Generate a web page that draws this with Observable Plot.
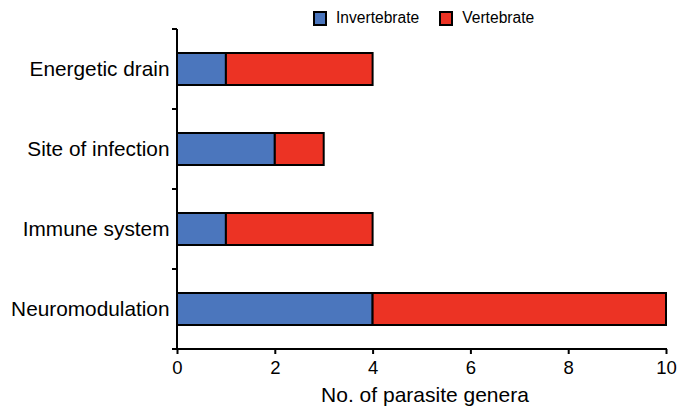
<!DOCTYPE html>
<html>
<head>
<meta charset="utf-8">
<script src="https://cdn.jsdelivr.net/npm/d3@7"></script>
<script src="https://cdn.jsdelivr.net/npm/@observablehq/plot@0.6"></script>
<style>
  body { margin: 0; background: #fff; font-family: "Liberation Sans", Arial, sans-serif; }
  #wrap { position: relative; width: 678px; height: 412px; }
  #legend { position: absolute; left: 313px; top: 10px; display: flex; align-items: center; font-size: 15.6px; color: #000; line-height: 16px; }
  .item { display: flex; align-items: center; margin-right: 20px; }
  .sw { width: 14px; height: 15px; box-sizing: border-box; border: 2px solid #000; margin-right: 9px; }
  #chart svg { display: block; }
</style>
</head>
<body>
<div id="wrap">
  <div id="chart"></div>
  <div id="legend"></div>
</div>
<script>
const categories = ["Energetic drain", "Site of infection", "Immune system", "Neuromodulation"];
const invertebrate = [1, 2, 1, 4];
const vertebrate = [3, 1, 3, 6];
const seriesNames = ["Invertebrate", "Vertebrate"];
const seriesColors = ["#4b76bd", "#ec3324"];
const xTicks = [0, 2, 4, 6, 8, 10];
const xLabel = "No. of parasite genera";

const rows = categories.flatMap((c, i) => [
  {category: c, group: seriesNames[0], value: invertebrate[i]},
  {category: c, group: seriesNames[1], value: vertebrate[i]}
]);

const chart = Plot.plot({
  width: 678,
  height: 412,
  marginLeft: 177,
  marginRight: 12,
  marginTop: 28,
  marginBottom: 63,
  style: {fontFamily: '"Liberation Sans", Arial, sans-serif', fontSize: "20.8px", color: "#000", background: "#fff"},
  x: {domain: [0, d3.max(xTicks)]},
  y: {domain: categories, paddingInner: 0.6, paddingOuter: 0.3},
  color: {domain: seriesNames, range: seriesColors},
  marks: [
    Plot.barX(rows, {x: "value", y: "category", fill: "group", stroke: "#000", strokeWidth: 2}),
    Plot.axisX({ticks: xTicks, tickSize: 5, tickPadding: 6.5, strokeWidth: 2, label: null, fontSize: 18.5}),
    Plot.axisY({tickSize: 0, tickPadding: 8, label: null, fontSize: 20.8}),
    Plot.text([xLabel], {frameAnchor: "bottom", dy: 52.5, dx: 3, text: d => d, fontSize: 21, fill: "#000"})
  ]
});

// axis lines and band-boundary ticks, positioned from the plot's own scales
const sx = chart.scale("x"), sy = chart.scale("y");
const half = sy.step * sy.paddingInner / 2;
const bounds = categories.map(c => sy.apply(c) - half);
bounds.push(sy.apply(categories[categories.length - 1]) + sy.bandwidth + half);
const xa = sx.apply(0), xb = sx.apply(d3.max(xTicks));
const g = d3.select(chart).append("g").attr("stroke", "#000").attr("stroke-width", 2);
g.append("line").attr("x1", xa).attr("x2", xa).attr("y1", bounds[0]).attr("y2", bounds[bounds.length - 1]);
g.append("line").attr("x1", xa - 5).attr("x2", xb + 1).attr("y1", bounds[bounds.length - 1]).attr("y2", bounds[bounds.length - 1]);
bounds.forEach(b => g.append("line").attr("x1", xa - 5).attr("x2", xa).attr("y1", b).attr("y2", b));

document.getElementById("chart").appendChild(chart);

const legend = d3.select("#legend");
seriesNames.forEach((name, i) => {
  const it = legend.append("div").attr("class", "item");
  it.append("div").attr("class", "sw").style("background", seriesColors[i]);
  it.append("span").text(name);
});
</script>
</body>
</html>
